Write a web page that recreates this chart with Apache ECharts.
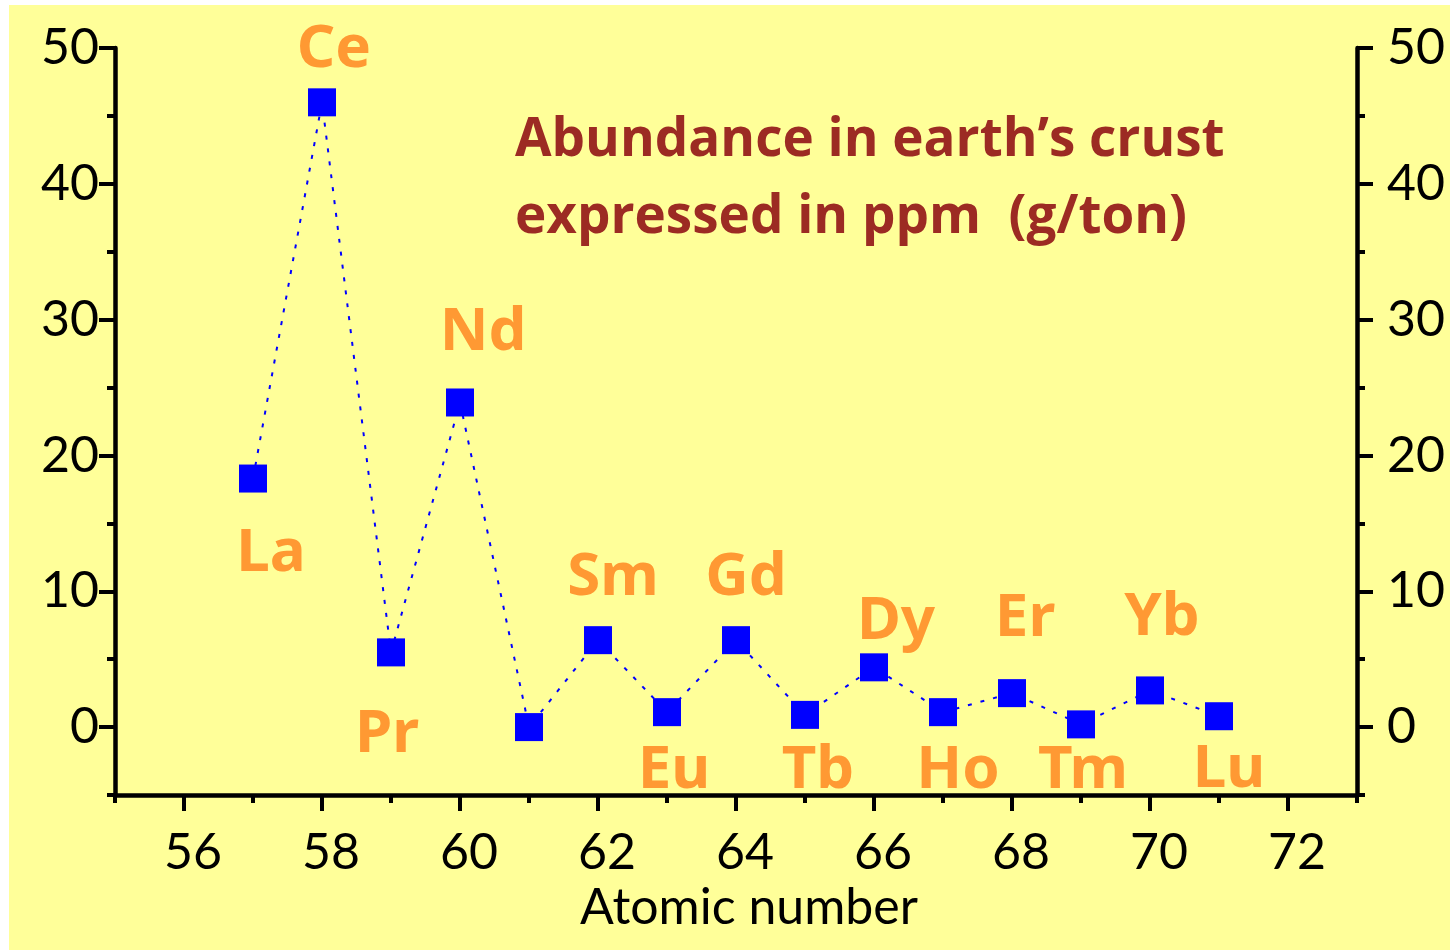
<!DOCTYPE html>
<html>
<head>
<meta charset="utf-8">
<script src="https://cdn.jsdelivr.net/npm/echarts@6/dist/echarts.min.js"></script>
<style>
  html, body { margin: 0; padding: 0; background: #ffffff; }
  #chart { position: absolute; left: 9px; top: 5px; width: 1441px; height: 945px; }
</style>
</head>
<body>
<div id="chart"></div>
<script>
// Rare earth elements: atomic number, symbol and crustal abundance (ppm)
const atomicNumbers = [57, 58, 59, 60, 61, 62, 63, 64, 65, 66, 67, 68, 69, 70, 71];
const symbols = ['La', 'Ce', 'Pr', 'Nd', 'Pm', 'Sm', 'Eu', 'Gd', 'Tb', 'Dy', 'Ho', 'Er', 'Tm', 'Yb', 'Lu'];
const abundance = [18.3, 46.0, 5.5, 23.9, 0, 6.4, 1.1, 6.4, 0.9, 4.4, 1.1, 2.5, 0.2, 2.7, 0.8];
const unlabelled = ['Pm'];

// Axis tick labels
const xTickLabels = [56, 58, 60, 62, 64, 66, 68, 70, 72];
const yTickLabels = [0, 10, 20, 30, 40, 50];

// Pixel offsets of each element label from its marker
const labelOffsets = {
  La: [18, 75], Ce: [12, -52], Pr: [-4, 83], Nd: [23, -70], Sm: [15, -62],
  Eu: [7, 59], Gd: [10, -62], Tb: [13, 56], Dy: [22, -45], Ho: [15, 59],
  Er: [13, -74], Tm: [2, 47], Yb: [12, -73], Lu: [10, 54]
};

const AXIS_FONT = 'Lato, "Open Sans", sans-serif';
const black = '#000000';

const seriesData = atomicNumbers.map((z, i) => {
  const sym = symbols[i];
  const item = { value: [z, abundance[i]], name: sym };
  if (unlabelled.includes(sym)) {
    item.label = { show: false };
  } else {
    item.label = { show: true, offset: labelOffsets[sym] };
  }
  return item;
});

function minorAxis(position, isX) {
  return {
    type: 'value',
    position: position,
    min: isX ? 55 : -5,
    max: isX ? 73 : 50,
    interval: isX ? 1 : 5,
    axisLine: { show: true, onZero: false, lineStyle: { color: black, width: 4.5 } },
    axisTick: { show: true, inside: false, length: 8, lineStyle: { color: black, width: 4 } },
    axisLabel: { show: false },
    splitLine: { show: false }
  };
}

function majorAxis(position, isX, values, margin, padding) {
  return {
    type: 'value',
    position: position,
    min: isX ? 55 : -5,
    max: isX ? 73 : 50,
    axisLine: { show: false, onZero: false },
    axisTick: { show: true, inside: false, length: 16, customValues: values,
                lineStyle: { color: black, width: 4 } },
    axisLabel: { show: true, customValues: values, margin: margin, padding: padding,
                 color: black, fontSize: 50, fontFamily: AXIS_FONT },
    splitLine: { show: false }
  };
}

const chart = echarts.init(document.getElementById('chart'), null, { renderer: 'canvas' });

const xMinor = minorAxis('bottom', true);
xMinor.name = 'Atomic number';
xMinor.nameLocation = 'middle';
xMinor.nameGap = 88;
xMinor.nameTextStyle = { color: black, fontSize: 50, fontFamily: AXIS_FONT, padding: [0, 0, 0, 26] };

chart.setOption({
  backgroundColor: '#FFFF99',
  animation: false,
  title: {
    text: 'Abundance in earth’s crust\nexpressed in ppm  (g/ton)',
    left: 506,
    top: 97,
    padding: 0,
    textStyle: {
      color: '#9C2B23', fontSize: 53, fontWeight: 'bold',
      fontFamily: '"Open Sans", Lato, sans-serif', lineHeight: 77
    }
  },
  grid: { left: 106, right: 93, top: 43, bottom: 155 },
  xAxis: [
    xMinor,
    majorAxis('bottom', true, xTickLabels, 33, [0, 0, 0, 18])
  ],
  yAxis: [
    minorAxis('left', false),
    majorAxis('left', false, yTickLabels, 16, [24, 0, 0, 0]),
    minorAxis('right', false),
    majorAxis('right', false, yTickLabels, 30, [24, 0, 0, 0])
  ],
  series: [{
    type: 'line',
    xAxisIndex: 0,
    yAxisIndex: 0,
    data: seriesData,
    symbol: 'rect',
    symbolSize: 28,
    itemStyle: { color: '#0000FF' },
    lineStyle: { color: '#0000FF', width: 2, type: [4, 9] },
    label: {
      position: 'inside',
      formatter: p => p.name,
      color: '#FF9933',
      fontSize: 60,
      fontWeight: 'bold',
      fontFamily: '"Comic Sans MS", "Noto Sans", sans-serif',
      align: 'center',
      verticalAlign: 'middle'
    },
    emphasis: { disabled: true }
  }]
});
</script>
</body>
</html>
